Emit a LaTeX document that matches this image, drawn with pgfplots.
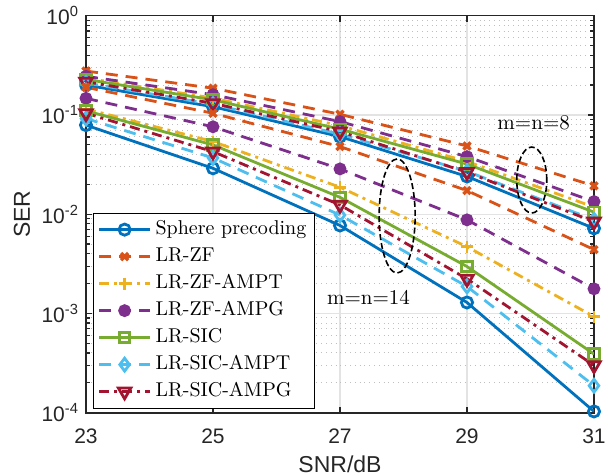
\documentclass[border=0pt]{standalone}
\usepackage{fontspec}
\usepackage{pgfplots}
\pgfplotsset{compat=1.18}
\newfontfamily\arial{Liberation Sans}

\definecolor{c1}{rgb}{0,0.447,0.741}
\definecolor{c2}{rgb}{0.850,0.325,0.098}
\definecolor{c3}{rgb}{0.929,0.694,0.125}
\definecolor{c4}{rgb}{0.494,0.184,0.556}
\definecolor{c5}{rgb}{0.466,0.674,0.188}
\definecolor{c6}{rgb}{0.301,0.745,0.933}
\definecolor{c7}{rgb}{0.635,0.078,0.184}
\definecolor{axgray}{rgb}{0.15,0.15,0.15}

\pgfplotsset{
  sp/.style={c1, solid, line width=1.4pt, mark=o, mark size=2.8pt},
  zf/.style={c2, line width=1.4pt, dash pattern=on 6pt off 4pt, mark=x, mark size=2.5pt,
    mark options={solid, line width=1.7pt}},
  zfampt/.style={c3, line width=1.4pt, dash pattern=on 5pt off 2.5pt on 1.5pt off 2.5pt,
    mark=+, mark size=3pt, mark options={solid}},
  zfampg/.style={c4, line width=1.4pt, dash pattern=on 6pt off 4pt, mark=*, mark size=2.5pt,
    mark options={solid, fill=c4}},
  sic/.style={c5, solid, line width=1.4pt, mark=square, mark size=2.6pt},
  sicampt/.style={c6, line width=1.4pt, dash pattern=on 6pt off 4pt, mark=diamond, mark size=3.2pt,
    mark options={solid}},
  sicampg/.style={c7, line width=1.4pt, dash pattern=on 5pt off 2.5pt on 1.5pt off 2.5pt,
    mark=triangle, mark size=3.6pt, mark options={solid, rotate=180}},
}

\begin{document}
\begin{tikzpicture}
\begin{axis}[
  scale only axis,
  width=254pt, height=198.5pt,
  ymode=log,
  xmin=23, xmax=31,
  ymin=1e-4, ymax=1,
  xtick={23,25,27,29,31},
  xticklabels={23,25,27,29,31},
  ytick={1e-4,1e-3,1e-2,1e-1,1},
  yticklabels={10\textsuperscript{-4},10\textsuperscript{-3},10\textsuperscript{-2},10\textsuperscript{-1},10\textsuperscript{0}},
  ticklabel style={font=\arial\fontsize{10.5}{12}\selectfont, text=axgray},
  xticklabel style={yshift=-4.5pt},
  xlabel={SNR/dB}, ylabel={SER},
  label style={font=\arial\fontsize{11.5}{13}\selectfont, text=axgray},
  xlabel style={at={(axis description cs:0.5,-0.131)}, anchor=center},
  ylabel style={at={(axis description cs:-0.126,0.5)}, anchor=center},
  axis line style={axgray, line width=0.8pt},
  tick style={axgray, line width=0.6pt},
  major tick length=3pt, minor tick length=1.8pt,
  xmajorgrids, ymajorgrids, yminorgrids,
  major grid style={gray!22, line width=0.6pt},
  minor grid style={gray!50, dotted, line width=0.5pt},
  legend cell align=left,
  legend style={at={(axis description cs:0.0138,0.01)}, anchor=south west,
    draw=black, line width=0.6pt, font=\fontsize{10}{12}\selectfont,
    row sep=0pt, inner xsep=2pt, inner ysep=1.5pt,
    nodes={inner sep=2pt, text height=7.3pt, text depth=2.2pt}},
  legend image code/.code={\draw[mark repeat=2, mark phase=2, #1]
    plot coordinates {(0cm,0cm) (0.45cm,0cm) (0.9cm,0cm)};},
]
% m=n=8
\addplot[sp] coordinates {(23,0.200) (25,0.121) (27,0.0605) (29,0.0240) (31,0.0072)};
\addlegendentry{Sphere precoding}
\addplot[zf] coordinates {(23,0.277) (25,0.186) (27,0.1016) (29,0.0487) (31,0.0193)};
\addlegendentry{LR-ZF}
\addplot[zfampt] coordinates {(23,0.235) (25,0.148) (27,0.078) (29,0.034) (31,0.0118)};
\addlegendentry{LR-ZF-AMPT}
\addplot[zfampg] coordinates {(23,0.245) (25,0.160) (27,0.0857) (29,0.038) (31,0.0134)};
\addlegendentry{LR-ZF-AMPG}
\addplot[sic] coordinates {(23,0.228) (25,0.142) (27,0.072) (29,0.032) (31,0.0105)};
\addlegendentry{LR-SIC}
\addplot[sicampt] coordinates {(23,0.210) (25,0.128) (27,0.064) (29,0.027) (31,0.0088)};
\addlegendentry{LR-SIC-AMPT}
\addplot[sicampg] coordinates {(23,0.216) (25,0.131) (27,0.068) (29,0.0265) (31,0.0084)};
\addlegendentry{LR-SIC-AMPG}
% m=n=14
\addplot[sp, forget plot] coordinates {(23,0.079) (25,0.029) (27,0.0077) (29,0.00129) (31,1.03e-4)};
\addplot[zf, forget plot] coordinates {(23,0.19) (25,0.104) (27,0.048) (29,0.0173) (31,0.0044)};
\addplot[zfampt, forget plot] coordinates {(23,0.115) (25,0.054) (27,0.0187) (29,0.0047) (31,0.00093)};
\addplot[zfampg, forget plot] coordinates {(23,0.147) (25,0.076) (27,0.0286) (29,0.00877) (31,0.00177)};
\addplot[sic, forget plot] coordinates {(23,0.110) (25,0.0499) (27,0.0148) (29,0.00297) (31,3.9e-4)};
\addplot[sicampt, forget plot] coordinates {(23,0.092) (25,0.0369) (27,0.0098) (29,0.00187) (31,1.87e-4)};
\addplot[sicampg, forget plot] coordinates {(23,0.104) (25,0.0427) (27,0.0124) (29,0.00223) (31,3.0e-4)};

\draw[black, line width=0.8pt, dash pattern=on 3pt off 1.5pt]
  (axis cs:27.9,0.0096) ellipse [x radius=9pt, y radius=28.5pt];
\draw[black, line width=0.8pt, dash pattern=on 3pt off 1.5pt]
  (axis cs:30.02,0.0221) ellipse [x radius=7.5pt, y radius=16.5pt];
\node[font=\fontsize{10.5}{12}\selectfont] at (axis cs:30.05,0.083) {m=n=8};
\node[font=\fontsize{10.5}{12}\selectfont] at (axis cs:27.45,1.44e-3) {m=n=14};
\end{axis}
\pgfresetboundingbox
\path ([shift={(-43pt,-31.5pt)}]current axis.south west) rectangle ([shift={(7pt,7.85pt)}]current axis.north east);
\end{tikzpicture}
\end{document}
